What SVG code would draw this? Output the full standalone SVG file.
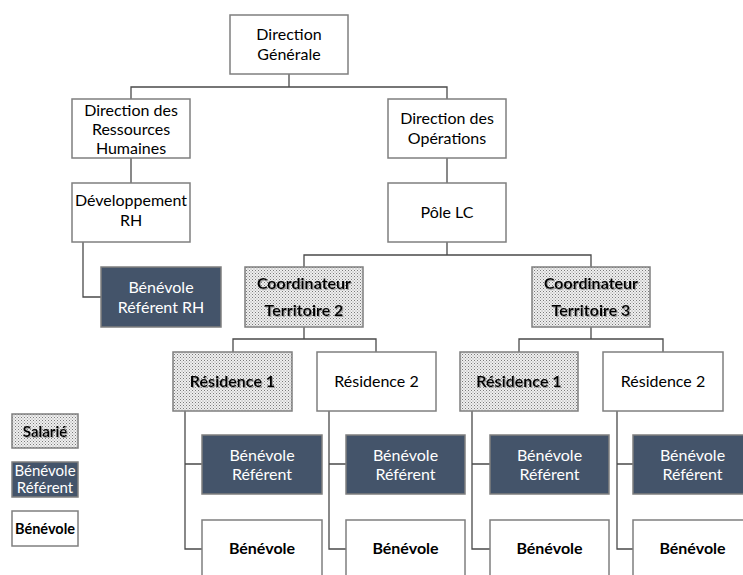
<svg xmlns="http://www.w3.org/2000/svg" width="743" height="575" viewBox="0 0 743 575">
<defs>
<pattern id="dots" width="3" height="3" patternUnits="userSpaceOnUse">
<rect width="3" height="3" fill="#efefef"/>
<rect x="0" y="0" width="1" height="1" fill="#7a7a7a"/>
<rect x="1.5" y="1.5" width="1" height="1" fill="#9a9a9a"/>
</pattern>
<filter id="sh" x="-10%" y="-30%" width="130%" height="160%">
<feDropShadow dx="1" dy="1" stdDeviation="0.6" flood-color="#9a9a9a" flood-opacity="0.9"/>
</filter>
</defs>
<style>
.b{fill:#ffffff;stroke:#7f7f7f;stroke-width:1.5}
.s{fill:url(#dots);stroke:#7f7f7f;stroke-width:1.5}
.d{fill:#44546a;stroke:#7f7f7f;stroke-width:1.5}
text{font-family:Lato,"Open Sans","Liberation Sans",sans-serif;font-size:16px;text-anchor:middle;fill:#000}
.w{fill:#ffffff}
.bold{font-weight:bold}
.shd{font-weight:bold;filter:url(#sh)}
.c{fill:none;stroke:#4a4a4a;stroke-width:1.3}
</style>
<g id="connectors">
<path class="c" d="M289,74 V87 M131,99 V87 H447 V99"/>
<path class="c" d="M131,158 V183"/>
<path class="c" d="M83,242 V297 H101"/>
<path class="c" d="M447,158 V183"/>
<path class="c" d="M447,242 V255 M304,267 V255 H591 V267"/>
<path class="c" d="M304,327 V339 M233,352 V339 H376 V352"/>
<path class="c" d="M591,327 V339 M519,352 V339 H663 V352"/>
<path class="c" d="M185,411 V549 H202 M185,464 H202"/>
<path class="c" d="M329,411 V549 H346 M329,464 H346"/>
<path class="c" d="M472,411 V549 H490 M472,464 H490"/>
<path class="c" d="M617,411 V549 H633 M617,464 H633"/>
</g>
<g id="dg"><rect class="b" x="230" y="15" width="118" height="59"/><text x="289" y="40">Direction</text><text x="289" y="60">Générale</text></g>
<g id="drh"><rect class="b" x="72" y="99" width="118" height="59"/><text x="131" y="116">Direction des</text><text x="131" y="135">Ressources</text><text x="131" y="154">Humaines</text></g>
<g id="devrh"><rect class="b" x="72" y="183" width="118" height="59"/><text x="131" y="206">Développement</text><text x="131" y="226">RH</text></g>
<g id="brrh"><rect class="d" x="101" y="267" width="120" height="60"/><text class="w" x="161" y="293">Bénévole</text><text class="w" x="161" y="313">Référent RH</text></g>
<g id="dops"><rect class="b" x="388" y="99" width="118" height="59"/><text x="447" y="124">Direction des</text><text x="447" y="144">Opérations</text></g>
<g id="pole"><rect class="b" x="388" y="183" width="118" height="59"/><text x="447" y="218">Pôle LC</text></g>
<g id="coord2"><rect class="s" x="245" y="267" width="118" height="60"/><text class="shd" x="304" y="289">Coordinateur</text><text class="shd" x="304" y="316">Territoire 2</text></g>
<g id="coord3"><rect class="s" x="532" y="267" width="118" height="60"/><text class="shd" x="591" y="289">Coordinateur</text><text class="shd" x="591" y="316">Territoire 3</text></g>
<g id="res21"><rect class="s" x="173" y="352" width="119" height="59"/><text class="shd" x="232.5" y="387">Résidence 1</text></g>
<g id="res22"><rect class="b" x="317" y="352" width="119" height="59"/><text x="376.5" y="387">Résidence 2</text></g>
<g id="res31"><rect class="s" x="460" y="352" width="118" height="59"/><text class="shd" x="519" y="387">Résidence 1</text></g>
<g id="res32"><rect class="b" x="603" y="352" width="120" height="59"/><text x="663" y="387">Résidence 2</text></g>
<g id="br1"><rect class="d" x="202" y="435" width="120" height="59"/><text class="w" x="262" y="461">Bénévole</text><text class="w" x="262" y="480">Référent</text></g>
<g id="br2"><rect class="d" x="346" y="435" width="119" height="59"/><text class="w" x="405.5" y="461">Bénévole</text><text class="w" x="405.5" y="480">Référent</text></g>
<g id="br3"><rect class="d" x="490" y="435" width="119" height="59"/><text class="w" x="549.5" y="461">Bénévole</text><text class="w" x="549.5" y="480">Référent</text></g>
<g id="br4"><rect class="d" x="633" y="435" width="120" height="59"/><text class="w" x="692.5" y="461">Bénévole</text><text class="w" x="692.5" y="480">Référent</text></g>
<g id="bv1"><rect class="b" x="202" y="520" width="120" height="62"/><text class="bold" x="262" y="554">Bénévole</text></g>
<g id="bv2"><rect class="b" x="346" y="520" width="119" height="62"/><text class="bold" x="405.5" y="554">Bénévole</text></g>
<g id="bv3"><rect class="b" x="490" y="520" width="119" height="62"/><text class="bold" x="549.5" y="554">Bénévole</text></g>
<g id="bv4"><rect class="b" x="633" y="520" width="120" height="62"/><text class="bold" x="692.5" y="554">Bénévole</text></g>
<g id="legend-salarie"><rect class="s" x="12" y="414" width="66" height="34"/><text class="shd" x="45" y="437" style="font-size:15px">Salarié</text></g>
<g id="legend-referent"><rect class="d" x="12" y="462" width="66" height="35"/><text class="w" x="45" y="476" style="font-size:15px">Bénévole</text><text class="w" x="45" y="493" style="font-size:15px">Référent</text></g>
<g id="legend-benevole"><rect class="b" x="12" y="511" width="66" height="35"/><text class="bold" x="45" y="534" style="font-size:14.5px">Bénévole</text></g>
</svg>
